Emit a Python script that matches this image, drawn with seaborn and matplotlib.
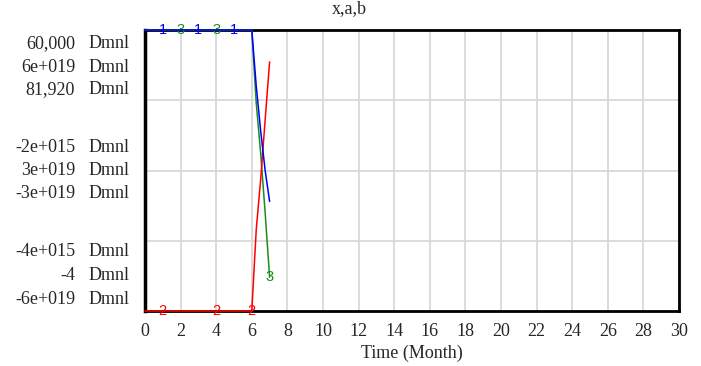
import numpy as np
import pandas as pd
import matplotlib
matplotlib.use("Agg")
import matplotlib.pyplot as plt
import seaborn as sns

# ---- data ----
time = [0, 1, 2, 3, 4, 5, 6, 6.25, 6.5, 6.75, 7]
x_vals = [60000, 60000, 60000, 60000, 60000, 60000, 60000, -8.0e14, -1.44e15, -2.0e15, -2.44e15]
a_vals = [-4, -4, -4, -4, -4, -4, -4, 1.74e19, 2.82e19, 4.08e19, 5.32e19]
b_vals = [81920, 81920, 81920, 81920, 81920, 81920, 81920, -1.56e19, -2.64e19, -3.9e19, -5.28e19]

x_range = (-4e15, 60000)
a_range = (-4, 6e19)
b_range = (-6e19, 81920)

label_top = ["60,000", "6e+019", "81,920"]
label_mid = ["-2e+015", "3e+019", "-3e+019"]
label_bot = ["-4e+015", "-4", "-6e+019"]
unit = "Dmnl"

x_marks = [1, 3, 5]
b_marks = [2, 4, 7]
a_marks = [1, 4, 6]

xticks = list(range(0, 31, 2))
title = "x,a,b"
xlabel = "Time (Month)"

sns.set_style("white")
plt.rcParams["font.family"] = ["Liberation Serif", "DejaVu Serif"]

W, H = 701, 366
fig = plt.figure(figsize=(W / 100, H / 100), dpi=100)
L, R, T, B = 145, 679, 30, 311
ax = fig.add_axes([L / W, 1 - B / H, (R - L) / W, (B - T) / H])

ax.set_xlim(0, 30)
ax.set_ylim(0, 1)
ax.set_xticks(xticks)
ax.set_xticklabels([str(t) for t in xticks], fontsize=13)
ax.set_yticks([0.25, 0.5, 0.75])
ax.set_yticklabels([])
ax.tick_params(axis="both", length=0)
ax.tick_params(axis="x", pad=9)
ax.grid(True, color="#d6d6d6", linewidth=1.2)
for s in ax.spines.values():
    s.set_color("black")
    s.set_linewidth(2)
ax.spines["left"].set_linewidth(2.5)
ax.set_xlabel(xlabel, fontsize=13, labelpad=3)

mark_font = dict(family=["Liberation Sans", "DejaVu Sans"], fontsize=10.5,
                 ha="center", va="center")

def series(vals, rng, color, marks, num):
    tw = ax.twinx()
    tw.set_ylim(*rng)
    tw.set_yticks([])
    for s in tw.spines.values():
        s.set_visible(False)
    df = pd.DataFrame({"t": time, "v": vals})
    sns.lineplot(data=df, x="t", y="v", ax=tw, color=color, linewidth=1.1,
                 estimator=None, sort=False, clip_on=False)
    tw.set_xlabel("")
    tw.set_ylabel("")
    for m in marks:
        i = time.index(m)
        tw.text(m, vals[i], num, color=color, clip_on=False, **mark_font)
    return tw

series(b_vals, b_range, "#1a8c1a", b_marks, "3")
series(a_vals, a_range, "#ff0000", a_marks, "2")
series(x_vals, x_range, "#0000ff", x_marks, "1")

# left axis labels
groups = [(label_top, [44, 67, 90]), (label_mid, [147, 170, 193]), (label_bot, [252, 275, 299])]
for labs, ys in groups:
    for lab, yy in zip(labs, ys):
        fig.text(75 / W, 1 - yy / H, lab, ha="right", va="center", fontsize=13)
        fig.text(89 / W, 1 - yy / H, unit, ha="left", va="center", fontsize=13)

fig.text(349 / W, 1 - 13 / H, title, ha="center", va="baseline", fontsize=13)

fig.savefig("out.png", dpi=100)
